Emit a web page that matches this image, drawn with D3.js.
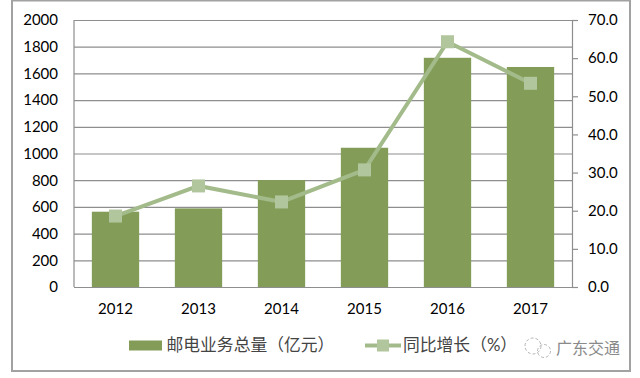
<!DOCTYPE html>
<html>
<head>
<meta charset="utf-8">
<script src="https://cdn.jsdelivr.net/npm/d3@7"></script>
<style>
  html, body { margin: 0; padding: 0; background: #fff; }
  text { font-family: Lato, "Noto Sans CJK SC", sans-serif; }
</style>
</head>
<body>
<div id="chart"></div>
<script>
const years = ["2012", "2013", "2014", "2015", "2016", "2017"];
const totals = [564, 589, 801, 1043, 1717, 1648];
const growth = [18.6, 26.5, 22.3, 30.7, 64.3, 53.4];
const leftTicks = [0, 200, 400, 600, 800, 1000, 1200, 1400, 1600, 1800, 2000];
const rightTicks = [0, 10, 20, 30, 40, 50, 60, 70];
const barName = "邮电业务总量（亿元）";
const lineName = "同比增长（%）";
const watermark = "广东交通";

const margin = { top: 20, right: 68, bottom: 91, left: 74 },
      width = 640 - margin.left - margin.right,
      height = 378 - margin.top - margin.bottom;

const barColor = "#839d58", lineColor = "#a3bb8a", markColor = "#b1c69c", gridColor = "#8e8e8e";

const root = d3.select("#chart").append("svg")
    .attr("width", 640)
    .attr("height", 378)
    .style("display", "block");

// outer frame
root.append("rect")
    .attr("x", 12).attr("y", 0.5)
    .attr("width", 618).attr("height", 370.5)
    .attr("fill", "#fff")
    .attr("stroke", "#a2a2a2")
    .attr("stroke-width", 2);

const svg = root.append("g")
    .attr("transform", `translate(${margin.left},${margin.top})`);

const x = d3.scaleBand().domain(years).range([0, width]).paddingInner(0.43).paddingOuter(0.215);
const yLeft = d3.scaleLinear().domain([0, 2000]).range([height, 0]);
const yRight = d3.scaleLinear().domain([0, 70]).range([height, 0]);

// gridlines and left labels
const leftAxis = svg.append("g")
    .call(d3.axisLeft(yLeft).tickValues(leftTicks).tickSize(-width).tickPadding(16).tickFormat(d3.format("d")));
leftAxis.select(".domain").remove();
leftAxis.selectAll("line").attr("stroke", gridColor).attr("stroke-width", 1.2);
leftAxis.selectAll("text").attr("font-size", 15).attr("fill", "#000");

svg.append("line")
    .attr("y1", 0).attr("y2", height)
    .attr("stroke", gridColor).attr("stroke-width", 1.2);

// bars
svg.selectAll(".bar")
  .data(years)
  .enter().append("rect")
    .attr("class", "bar")
    .attr("x", d => x(d))
    .attr("y", (d, i) => yLeft(totals[i]))
    .attr("width", x.bandwidth())
    .attr("height", (d, i) => height - yLeft(totals[i]))
    .attr("fill", barColor);

// right axis
const rightAxis = svg.append("g")
    .attr("transform", `translate(${width},0)`)
    .call(d3.axisRight(yRight).tickValues(rightTicks).tickSize(6).tickPadding(10).tickFormat(d3.format(".1f")));
rightAxis.select(".domain").attr("stroke", gridColor).attr("stroke-width", 1.2);
rightAxis.selectAll("line").attr("stroke", gridColor).attr("stroke-width", 1.2);
rightAxis.selectAll("text").attr("font-size", 15).attr("fill", "#000");

// bottom axis
const bottomAxis = svg.append("g")
    .attr("transform", `translate(0,${height})`)
    .call(d3.axisBottom(x).tickSize(0).tickPadding(16));
bottomAxis.select(".domain").attr("stroke", gridColor).attr("stroke-width", 1.2);
bottomAxis.selectAll("text").attr("font-size", 15).attr("fill", "#000");

// growth line
const line = d3.line()
    .x(d => x(d) + x.bandwidth() / 2)
    .y((d, i) => yRight(growth[i]));

svg.append("path")
    .attr("d", line(years))
    .attr("fill", "none")
    .attr("stroke", lineColor)
    .attr("stroke-width", 4);

svg.selectAll(".mark")
  .data(years)
  .enter().append("rect")
    .attr("class", "mark")
    .attr("x", d => x(d) + x.bandwidth() / 2 - 6.5)
    .attr("y", (d, i) => yRight(growth[i]) - 6.5)
    .attr("width", 13)
    .attr("height", 13)
    .attr("fill", markColor);

// legend
const legend = root.append("g");
legend.append("rect")
    .attr("x", 129).attr("y", 340.5)
    .attr("width", 33).attr("height", 10)
    .attr("fill", barColor);
legend.append("text")
    .attr("x", 166.5).attr("y", 351)
    .attr("font-size", 16.8)
    .attr("fill", "#444")
    .text(barName);
legend.append("line")
    .attr("x1", 365).attr("x2", 401)
    .attr("y1", 345.5).attr("y2", 345.5)
    .attr("stroke", lineColor)
    .attr("stroke-width", 4);
legend.append("rect")
    .attr("x", 377).attr("y", 339.5)
    .attr("width", 12).attr("height", 12)
    .attr("fill", markColor);
legend.append("text")
    .attr("x", 403).attr("y", 351)
    .attr("font-size", 16.8)
    .attr("fill", "#444")
    .text(lineName);

// watermark
const mark = root.append("g").attr("fill", "none").attr("stroke", "#b5b5b5");
mark.append("circle").attr("cx", 533).attr("cy", 346).attr("r", 8).attr("stroke-dasharray", "3 2");
mark.append("circle").attr("cx", 544).attr("cy", 351).attr("r", 6.5).attr("stroke-dasharray", "3 2");
root.append("text")
    .attr("x", 556).attr("y", 354)
    .attr("font-size", 16)
    .attr("fill", "#8a8a8a")
    .text(watermark);
</script>
</body>
</html>
